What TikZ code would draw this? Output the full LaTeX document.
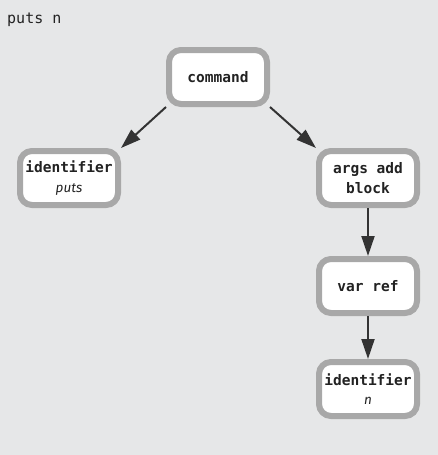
\documentclass[tikz,border=0pt]{standalone}
\usepackage{fontspec}
\usetikzlibrary{arrows.meta}
\newfontfamily\codefont{DejaVu Sans Mono}
\newfontfamily\notefont{Fira Sans}
\definecolor{panelGray}{RGB}{230,231,232}
\definecolor{frameGray}{RGB}{168,168,168}
\definecolor{arrowGray}{RGB}{51,51,51}
\definecolor{textGray}{RGB}{34,34,34}
\newcommand{\nodenote}[1]{\\{\notefont\mdseries\itshape\fontsize{13.5}{19}\selectfont #1}}

\begin{document}
\begin{tikzpicture}[
    x=1pt, y=-1pt,
    box/.style={rectangle, draw=frameGray, line width=6pt, fill=white, rounded corners=12pt, minimum width=98pt, minimum height=54pt, align=center, text=textGray, font=\codefont\bfseries\fontsize{14.5}{19.5}\selectfont},
    arrow/.style={-{Triangle[length=20pt, width=13pt]}, line width=2pt, arrowGray}
]
\fill[panelGray] (0,0) rectangle (438,455);
\useasboundingbox (0,0) rectangle (438,455);
\node[anchor=west, text=textGray, font=\codefont\fontsize{15}{18}\selectfont, inner sep=0pt] (code) at (7,20) {puts n};
\node[box] (command) at (218,77) {command};
\node[box] (idputs) at (69,178) {identifier\nodenote{puts}};
\node[box] (args) at (368,178) {args add\\block};
\node[box] (varref) at (368,286) {var ref};
\node[box] (idn) at (368,389) {identifier\nodenote{n}};
\draw[arrow] (command.south west) -- (idputs.north east);
\draw[arrow] (command.south east) -- (args.north west);
\draw[arrow] (args) -- (varref);
\draw[arrow] (varref) -- (idn);
\end{tikzpicture}
\end{document}
